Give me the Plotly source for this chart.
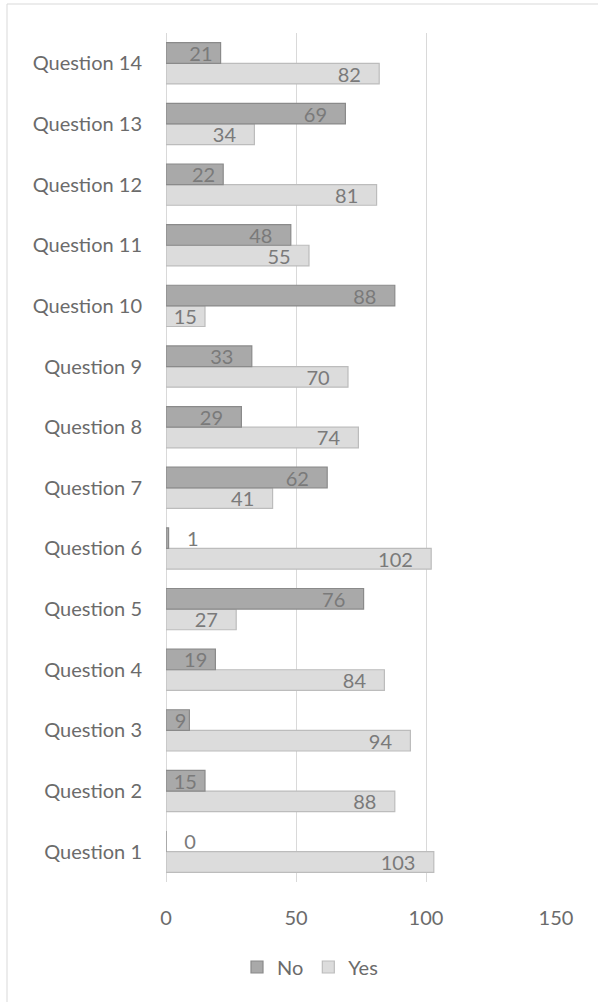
import plotly.graph_objects as go

categories = [f"Question {i}" for i in range(1, 15)]
no_values = [0, 15, 9, 19, 76, 1, 62, 29, 33, 88, 48, 22, 69, 21]
yes_values = [103, 88, 94, 84, 27, 102, 41, 74, 70, 15, 55, 81, 34, 82]

NB = "\u00a0"

def positions(vals):
    return ["outside" if v <= 1 else "inside" for v in vals]

def labels(vals):
    out = []
    for v in vals:
        if v <= 1:
            out.append(NB * 3 + str(v))
        elif v >= 25:
            out.append(str(v) + NB * 3)
        elif v >= 12:
            out.append(str(v) + NB)
        else:
            out.append(str(v))
    return out

FONT = "Lato, Carlito, Calibri, sans-serif"
LABEL_COLOR = "#7a7a7a"
FS = 20

fig = go.Figure()
fig.add_trace(go.Bar(
    name="Yes", y=categories, x=yes_values, orientation="h",
    marker=dict(color="#dcdcdc", line=dict(color="#bcbcbc", width=1.2)),
    text=labels(yes_values), textposition=positions(yes_values),
    insidetextanchor="end", constraintext="none", textangle=0,
    textfont=dict(color=LABEL_COLOR, size=FS, family=FONT),
    legendrank=2,
))
fig.add_trace(go.Bar(
    name="No", y=categories, x=no_values, orientation="h",
    marker=dict(color="#a9a9a9", line=dict(color="#8a8a8a", width=1.2)),
    text=labels(no_values), textposition=positions(no_values),
    insidetextanchor="end", constraintext="none", textangle=0,
    textfont=dict(color=LABEL_COLOR, size=FS, family=FONT),
    legendrank=1,
))

L, R, T, B = 166, 556, 33, 882
W, H = 598, 1002
pw, ph = R - L, B - T

def px(xp):
    return (xp - L) / pw

def py(yp):
    return (B - yp) / ph

fig.update_layout(
    width=W, height=H,
    margin=dict(l=L, r=W - R, t=T, b=H - B, autoexpand=False),
    paper_bgcolor="white", plot_bgcolor="white",
    barmode="group", bargap=0.32, bargroupgap=0,
    font=dict(family=FONT, size=FS, color="#6b6b6b"),
    showlegend=True,
    legend=dict(orientation="h", x=px(310), xanchor="center", y=py(967), yanchor="middle",
                font=dict(size=FS, color="#6b6b6b"), itemwidth=30, traceorder="normal"),
    xaxis=dict(range=[0, 150], tickvals=[0, 50, 100, 150], showgrid=True, automargin=False,
               gridcolor="#d9d9d9", gridwidth=1, zeroline=True, zerolinecolor="#d9d9d9",
               zerolinewidth=1, showline=False, ticks="", ticklabelstandoff=22,
               tickfont=dict(size=FS, color="#6b6b6b")),
    yaxis=dict(categoryorder="array", categoryarray=categories, showgrid=False, automargin=False,
               zeroline=False, showline=False, ticks="", ticklabelstandoff=23,
               tickfont=dict(size=FS, color="#6b6b6b")),
    shapes=[dict(type="rect", xref="paper", yref="paper",
                 x0=px(7), x1=px(W + 5), y0=py(H + 5), y1=py(4),
                 line=dict(color="#d9d9d9", width=1), fillcolor="rgba(0,0,0,0)", layer="below")],
)

fig.write_html("out.html", config={"displayModeBar": False},
               post_script="document.body.style.margin='0';document.body.style.overflow='hidden';")
